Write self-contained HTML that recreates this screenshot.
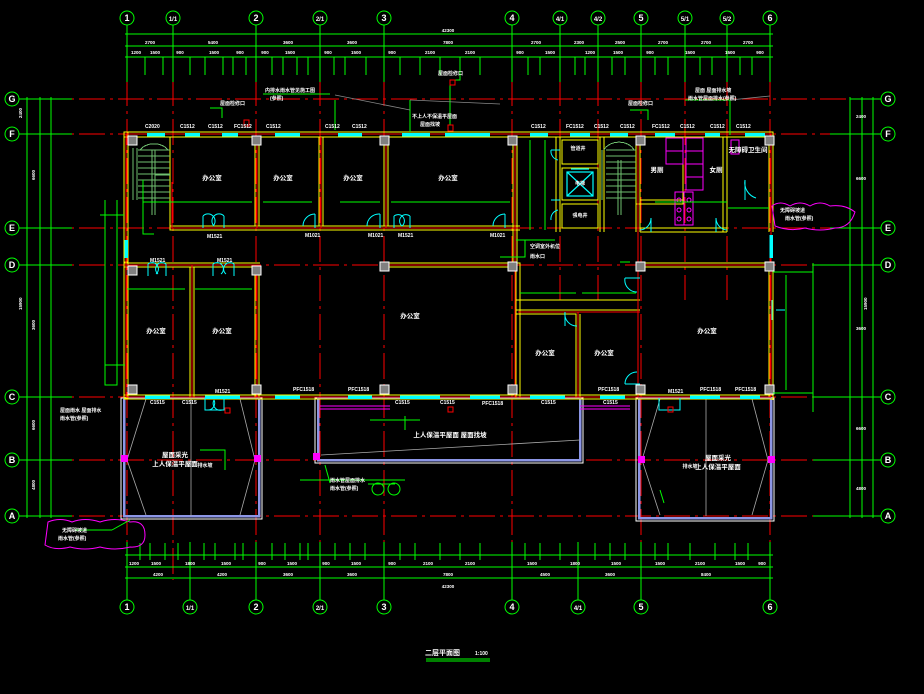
<!DOCTYPE html>
<html><head><meta charset="utf-8"><style>
html,body{margin:0;padding:0;background:#000;}
svg{display:block}
text{font-family:"Liberation Sans","Noto Sans CJK SC",sans-serif;fill:#fff;font-weight:bold}
</style></head><body>
<svg width="924" height="694" viewBox="0 0 924 694" xmlns="http://www.w3.org/2000/svg" shape-rendering="crispEdges">
<rect width="924" height="694" fill="#000"/>
<!-- red axis lines -->
<g stroke="#ff0000" stroke-width="1" stroke-dasharray="26,5,3,5" fill="none">
<path d="M40 99H860M40 134H860M40 228H860M40 265H860M40 397H860M40 460H860M40 516H860"/>
<path d="M127 80V580M173 80V580M256 80V580M320 80V580M384 80V580M512 80V580M560 80V300M598 80V300M641 80V580M685 80V300M727 80V300M770 80V580"/>
</g>
<!-- green grid extension & dims -->
<g stroke="#00ff00" stroke-width="1" fill="none">
<path d="M127 25V82M173 25V82M256 25V82M320 25V82M384 25V82M512 25V82M560 25V82M598 25V82M641 25V82M685 25V82M727 25V82M770 25V82"/>
<path d="M127 542V600M190 542V600M256 542V600M320 542V600M384 542V600M512 542V600M578 542V600M641 542V600M770 542V600"/>
<path d="M125 34H773M125 46H773M125 57H773M125 555H773M125 567H773M125 578H773"/>
<path d="M19 99H72M19 134H72M19 228H72M19 265H72M19 397H72M19 460H72M19 516H72"/>
<path d="M27 97V518M40 97V518M51 97V518"/>
<path d="M813 265H881M850 99H881M830 134H881M830 228H881M813 397H881M813 460H881M813 516H881"/>
<path d="M813 263V412M850 97V518M862 97V518M873 97V518"/>
</g>
<g stroke="#00ff00" stroke-width="1">
<path d="M145 57V75M163 57V75M190 57V75M205 57V75M223 57V75M233 57V75M246 57V75M272 57V75M283 57V75M297 57V75M308 57V75M334 57V75M345 57V75M366 57V75M400 57V75M420 57V75M440 57V75M460 57V75M480 57V75M528 57V75M540 57V75M575 57V75M585 57V75M612 57V75M625 57V75M655 57V75M668 57V75M700 57V75M712 57V75M740 57V75M752 57V75"/>
<path d="M140 543V560M150 543V560M165 543V560M178 543V560M204 543V560M215 543V560M235 543V560M243 543V560M272 543V560M285 543V560M300 543V560M308 543V560M335 543V560M350 543V560M365 543V560M400 543V560M415 543V560M440 543V560M460 543V560M480 543V560M525 543V560M540 543V560M560 543V560M595 543V560M610 543V560M625 543V560M655 543V560M668 543V560M690 543V560M715 543V560M735 543V560M748 543V560"/>
</g>
<!-- grid circles -->
<g stroke="#00ff00" stroke-width="1" fill="none" shape-rendering="auto">
<circle cx="127" cy="18" r="7"/><circle cx="173" cy="18" r="7"/><circle cx="256" cy="18" r="7"/><circle cx="320" cy="18" r="7"/><circle cx="384" cy="18" r="7"/><circle cx="512" cy="18" r="7"/><circle cx="560" cy="18" r="7"/><circle cx="598" cy="18" r="7"/><circle cx="641" cy="18" r="7"/><circle cx="685" cy="18" r="7"/><circle cx="727" cy="18" r="7"/><circle cx="770" cy="18" r="7"/>
<circle cx="127" cy="607" r="7"/><circle cx="190" cy="607" r="7"/><circle cx="256" cy="607" r="7"/><circle cx="320" cy="607" r="7"/><circle cx="384" cy="607" r="7"/><circle cx="512" cy="607" r="7"/><circle cx="578" cy="607" r="7"/><circle cx="641" cy="607" r="7"/><circle cx="770" cy="607" r="7"/>
<circle cx="12" cy="99" r="7"/><circle cx="12" cy="134" r="7"/><circle cx="12" cy="228" r="7"/><circle cx="12" cy="265" r="7"/><circle cx="12" cy="397" r="7"/><circle cx="12" cy="460" r="7"/><circle cx="12" cy="516" r="7"/>
<circle cx="888" cy="99" r="7"/><circle cx="888" cy="134" r="7"/><circle cx="888" cy="228" r="7"/><circle cx="888" cy="265" r="7"/><circle cx="888" cy="397" r="7"/><circle cx="888" cy="460" r="7"/><circle cx="888" cy="516" r="7"/>
</g>
<g font-size="9" text-anchor="middle" style="font-weight:normal">
<text x="127" y="21">1</text><text x="173" y="21" font-size="6">1/1</text><text x="256" y="21">2</text><text x="320" y="21" font-size="6">2/1</text><text x="384" y="21">3</text><text x="512" y="21">4</text><text x="560" y="21" font-size="6">4/1</text><text x="598" y="21" font-size="6">4/2</text><text x="641" y="21">5</text><text x="685" y="21" font-size="6">5/1</text><text x="727" y="21" font-size="6">5/2</text><text x="770" y="21">6</text>
<text x="127" y="610">1</text><text x="190" y="610" font-size="6">1/1</text><text x="256" y="610">2</text><text x="320" y="610" font-size="6">2/1</text><text x="384" y="610">3</text><text x="512" y="610">4</text><text x="578" y="610" font-size="6">4/1</text><text x="641" y="610">5</text><text x="770" y="610">6</text>
<text x="12" y="102">G</text><text x="12" y="137">F</text><text x="12" y="231">E</text><text x="12" y="268">D</text><text x="12" y="400">C</text><text x="12" y="463">B</text><text x="12" y="519">A</text>
<text x="888" y="102">G</text><text x="888" y="137">F</text><text x="888" y="231">E</text><text x="888" y="268">D</text><text x="888" y="400">C</text><text x="888" y="463">B</text><text x="888" y="519">A</text>
</g>
<g font-size="4.5" text-anchor="middle">
<text x="448" y="32">42300</text>
<text x="150" y="44">2700</text><text x="213" y="44">5400</text><text x="288" y="44">3600</text><text x="352" y="44">3600</text><text x="448" y="44">7800</text><text x="536" y="44">2700</text><text x="579" y="44">2300</text><text x="620" y="44">2500</text><text x="663" y="44">2700</text><text x="706" y="44">2700</text><text x="748" y="44">2700</text>
<text x="136" y="54">1200</text><text x="155" y="54">1500</text><text x="180" y="54">900</text><text x="214" y="54">1500</text><text x="240" y="54">900</text><text x="265" y="54">900</text><text x="290" y="54">1500</text><text x="328" y="54">900</text><text x="356" y="54">1500</text><text x="392" y="54">900</text><text x="430" y="54">2100</text><text x="470" y="54">2100</text><text x="520" y="54">900</text><text x="550" y="54">1500</text><text x="590" y="54">1200</text><text x="618" y="54">1500</text><text x="650" y="54">900</text><text x="690" y="54">1500</text><text x="730" y="54">1500</text><text x="760" y="54">900</text>
<text x="448" y="588">42300</text>
<text x="158" y="576">4200</text><text x="222" y="576">4200</text><text x="288" y="576">3600</text><text x="352" y="576">3600</text><text x="448" y="576">7800</text><text x="545" y="576">4500</text><text x="610" y="576">3600</text><text x="706" y="576">8400</text>
<text x="134" y="565">1200</text><text x="156" y="565">1500</text><text x="190" y="565">1800</text><text x="226" y="565">1500</text><text x="262" y="565">900</text><text x="292" y="565">1500</text><text x="326" y="565">900</text><text x="356" y="565">1500</text><text x="392" y="565">900</text><text x="428" y="565">2100</text><text x="470" y="565">2100</text><text x="532" y="565">1500</text><text x="575" y="565">1800</text><text x="616" y="565">1500</text><text x="660" y="565">1500</text><text x="700" y="565">2100</text><text x="740" y="565">1500</text><text x="762" y="565">900</text>
</g>
<g font-size="4.5">
<text x="22" y="118" transform="rotate(-90 22 118)">2400</text><text x="22" y="310" transform="rotate(-90 22 310)">15900</text>
<text x="35" y="180" transform="rotate(-90 35 180)">6600</text><text x="35" y="330" transform="rotate(-90 35 330)">3600</text><text x="35" y="430" transform="rotate(-90 35 430)">6600</text><text x="35" y="490" transform="rotate(-90 35 490)">4800</text>
<text x="856" y="118">2400</text><text x="856" y="180">6600</text><text x="856" y="330">3600</text><text x="856" y="430">6600</text><text x="856" y="490">4800</text><text x="867" y="310" transform="rotate(-90 867 310)">15900</text>
</g>

<g fill="none">
<rect x="121" y="398" width="141" height="121" stroke="#fff" stroke-width="1"/>
<rect x="124" y="398" width="135" height="118" stroke="#8c96e6" stroke-width="2.5"/>
<rect x="315" y="398" width="268" height="65" stroke="#fff" stroke-width="1"/>
<rect x="318" y="398" width="262" height="62" stroke="#8c96e6" stroke-width="2.5"/>
<rect x="636" y="398" width="138" height="123" stroke="#fff" stroke-width="1"/>
<rect x="639" y="398" width="132" height="120" stroke="#8c96e6" stroke-width="2.5"/>
</g>
<g stroke="#aaa" stroke-width="0.8" fill="none" shape-rendering="auto">
<path d="M146 399L127 460L146 515M240 399L255 460L240 515M191 399V516"/>
<path d="M321 455L580 440"/>
<path d="M660 399L642 460L660 515M752 399L768 460L752 515M706 399V516"/>
</g>

<g stroke="#ffff00" stroke-width="1.2" fill="none">
<path d="M124 132H773V137H124Z"/>
<rect x="124" y="132" width="4" height="135"/>
<rect x="124" y="262" width="4" height="136"/>
<path d="M170 137V230H520M170 226H520"/>
<path d="M255 137V226M259 137V226M319 137V226M323 137V226M384 137V226M388 137V226M513 137V262M517 137V262"/>
<path d="M124 263H260M124 267H260M255 267V398M259 267V398M190 267V398M194 267V398"/>
<path d="M384 263H520V398M384 267H516V398"/>
<path d="M516 310H640M516 314H576V398M580 314V398"/>
<path d="M636 137V232M640 137V232M636 263H773V400M640 267H769V397"/>
<path d="M124 395H773M124 399H773"/>
<path d="M560 137V232M556 137V232M600 137V232M604 137V232"/>
<path d="M727 137V232M723 137V232M769 137V232M773 137V232"/>
<path d="M640 228H727M640 232H727"/>
<path d="M683 137V204H636M683 200H640"/>
<rect x="562" y="140" width="36" height="24"/><rect x="562" y="168" width="36" height="32"/><rect x="562" y="204" width="36" height="24"/>
<path d="M640 300H516"/>
</g>
<g stroke="#ff0000" stroke-width="1" fill="none">
<path d="M126 134H772M126 134V397M172 182V228H518M257 137V228M321 137V228M386 137V228M515 137V397M126 265H258M192 265V397M257 265V397M386 265H518M638 137V397M638 265H771M771 134V397M126 397H771M518 312H640M578 312V397"/>
</g>
<g stroke="#00ffff" stroke-width="3.5">
<path d="M147 134.5H165M185 134.5H200M222 134.5H238M275 134.5H300M338 134.5H362M402 134.5H430M445 134.5H490M530 134.5H548M570 134.5H590M610 134.5H628M655 134.5H675M705 134.5H720M745 134.5H765"/>
<path d="M145 397H170M205 397H240M275 397H300M348 397H372M400 397H440M470 397H500M530 397H565M600 397H625M690 397H720M740 397H760"/>
<path d="M126 240V258M771 235V258"/>
</g>
<g fill="#808080" stroke="#fff" stroke-width="0.8">
<rect x="128" y="136" width="9" height="9"/><rect x="252" y="136" width="9" height="9"/><rect x="380" y="136" width="9" height="9"/><rect x="508" y="136" width="9" height="9"/><rect x="636" y="136" width="9" height="9"/><rect x="765" y="136" width="9" height="9"/>
<rect x="128" y="266" width="9" height="9"/><rect x="252" y="266" width="9" height="9"/><rect x="380" y="262" width="9" height="9"/><rect x="508" y="262" width="9" height="9"/><rect x="636" y="262" width="9" height="9"/><rect x="765" y="262" width="9" height="9"/>
<rect x="128" y="385" width="9" height="9"/><rect x="252" y="385" width="9" height="9"/><rect x="380" y="385" width="9" height="9"/><rect x="508" y="385" width="9" height="9"/><rect x="636" y="385" width="9" height="9"/><rect x="765" y="385" width="9" height="9"/>
</g>
<g stroke="#70c070" stroke-width="1" fill="none">
<path d="M133 148V200M137 148V200M138 150H170M138 156H170M138 162H170M138 168H170M138 174H170M138 180H170M138 186H170M138 192H170M138 198H170M152 150V215M155 150V215M155 175H170"/>
<path d="M140 150A16 12 0 0 1 168 150"/>
<path d="M602 150V200M606 150H636M606 156H636M606 162H636M606 168H636M606 174H636M606 180H636M606 186H636M606 192H636M606 198H636M618 160V215M621 160V215"/>
<path d="M604 150A16 12 0 0 1 634 150"/>
</g>
<g stroke="#00ffff" stroke-width="1" fill="none" shape-rendering="auto">
<path d="M203 216V228M203 216A6 6 0 0 1 213 226M224 216V228M224 216A6 6 0 0 0 214 226"/>
<path d="M315 214V228M315 214A12 12 0 0 0 303 226"/>
<path d="M380 214V228M380 214A12 12 0 0 0 367 226"/>
<path d="M394 216V228M394 216A6 6 0 0 1 402 226M410 216V228M410 216A6 6 0 0 0 402 226"/>
<path d="M505 214V228M505 214A12 12 0 0 0 493 226"/>
<path d="M148 264V276M148 264A6 6 0 0 1 156 274M166 264V276M166 264A6 6 0 0 0 158 274"/>
<path d="M213 264V276M213 264A6 6 0 0 1 221 274M234 264V276M234 264A6 6 0 0 0 226 274"/>
<path d="M625 278H640M625 278A12 12 0 0 0 637 292"/>
<path d="M625 384H640M625 384A12 12 0 0 1 637 372"/>
<path d="M565 312V326M565 312A12 12 0 0 0 577 326"/>
<path d="M205 398V410H224V398M207 410A7 7 0 0 0 214 400M222 410A7 7 0 0 1 214 400"/>
<path d="M659 398V410H680V398"/>
<path d="M651 218V232M651 218A12 12 0 0 1 640 230M716 218V232M716 218A12 12 0 0 0 727 230"/>
<path d="M551 150H560M551 150A9 9 0 0 0 558 160M551 200H560M551 220A9 9 0 0 1 558 210"/>
<path d="M745 180V200M745 180A16 16 0 0 0 756 198"/>
<path d="M772 300V320M776 310H785"/>
</g>
<g stroke="#00ffff" stroke-width="1.2" fill="none" shape-rendering="auto">
<rect x="567" y="172" width="26" height="24"/><path d="M567 172L593 196M593 172L567 196M571 169H589"/>
</g>
<g stroke="#ff00ff" stroke-width="1" fill="none" shape-rendering="auto">
<rect x="666" y="138" width="17" height="13"/><rect x="666" y="151" width="17" height="13"/><rect x="686" y="138" width="17" height="13"/><rect x="686" y="151" width="17" height="13"/><rect x="686" y="164" width="17" height="13"/><rect x="686" y="177" width="17" height="13"/>
<rect x="675" y="192" width="9" height="33"/><rect x="684" y="192" width="9" height="33"/>
<circle cx="679" cy="200" r="2"/><circle cx="689" cy="200" r="2"/><circle cx="679" cy="210" r="2"/><circle cx="689" cy="210" r="2"/><circle cx="679" cy="219" r="2"/><circle cx="689" cy="219" r="2"/>
<rect x="731" y="140" width="8" height="14"/>
<path d="M772 206Q780 200 790 206Q800 200 810 206Q820 200 830 206Q845 204 855 212Q850 228 835 228Q820 232 805 228Q790 232 775 226Z"/>
<path d="M48 522Q60 517 72 522Q85 517 100 522Q115 517 130 522Q145 520 145 535Q145 548 130 547Q115 551 100 547Q85 551 70 547Q55 551 45 545Z"/>
<path d="M320 406H390M320 409H390M580 406H630M580 409H630"/>
</g>
<g fill="#ff00ff"><rect x="121" y="455" width="7" height="7"/><rect x="254" y="455" width="7" height="7"/><rect x="313" y="453" width="7" height="7"/><rect x="638" y="456" width="7" height="7"/><rect x="768" y="456" width="7" height="7"/></g>
<g stroke="#00ff00" stroke-width="1" fill="none">
<path d="M105 200V385H117V200M100 215H124M105 365H125"/>
<path d="M773 272H813V393H773M786 275V390"/>
<path d="M143 180V234H154"/>
<path d="M143 202H252M263 202H312M340 202H380M391 202H510M655 202H727M728 208H769"/>
<path d="M127 289H185M195 289H252M520 293H576M582 293H636M516 240H555M530 140V230M545 140V230"/>
<path d="M405 416V430M370 420H420M368 484H395M405 480H300"/>
<path d="M210 108H222V118M263 94H330M335 100V130M410 100V132M450 100V125M460 68V80H450V118M630 110H648V120M685 100H730V135M500 257H525V240M630 262H620"/>
<path d="M200 450H225V470M75 530H112"/>
</g>
<g stroke="#00ff00" stroke-width="1" fill="none" shape-rendering="auto">
<path d="M130 520L112 530M325 465L330 483M660 490L664 503"/>
<circle cx="378" cy="489" r="6"/><circle cx="394" cy="489" r="6"/>
</g>
<g stroke="#888" stroke-width="0.8" fill="none" shape-rendering="auto"><path d="M335 95L410 110M410 100L500 104M730 100L770 96"/></g>
<g stroke="#ff0000" fill="none"><rect x="244" y="120" width="5" height="6"/><rect x="448" y="125" width="5" height="6"/><rect x="225" y="408" width="5" height="5"/><rect x="448" y="407" width="5" height="5"/><rect x="668" y="407" width="5" height="5"/><rect x="450" y="80" width="5" height="5"/></g>
<g font-size="6.5" text-anchor="middle">
<text x="212" y="180">办公室</text><text x="283" y="180">办公室</text><text x="353" y="180">办公室</text><text x="448" y="180">办公室</text>
<text x="156" y="333">办公室</text><text x="222" y="333">办公室</text><text x="410" y="318">办公室</text><text x="545" y="355">办公室</text><text x="604" y="355">办公室</text><text x="707" y="333">办公室</text>
<text x="657" y="172">男厕</text><text x="716" y="172">女厕</text><text x="748" y="152">无障碍卫生间</text>
<text x="578" y="150" font-size="5">管道井</text><text x="580" y="217" font-size="5">强电井</text><text x="580" y="185" font-size="5">电梯</text>
<text x="175" y="457">屋面采光</text><text x="175" y="466">上人保温平屋面</text>
<text x="450" y="437">上人保温平屋面  屋面找坡</text>
<text x="718" y="460">屋面采光</text><text x="718" y="469">上人保温平屋面</text>
<text x="205" y="467" font-size="5">排水坡</text><text x="690" y="468" font-size="5">排水坡</text>
</g>
<g font-size="5">
<text x="265" y="92">内排水雨水管见施工图</text><text x="270" y="100">(参照)</text>
<text x="412" y="118">不上人不保温平屋面</text><text x="420" y="126">屋面找坡</text>
<text x="438" y="75">屋面检修口</text><text x="220" y="105">屋面检修口</text><text x="628" y="105">屋面检修口</text>
<text x="695" y="92">屋面 屋面排水坡</text><text x="688" y="100">雨水管屋面排水(参照)</text>
<text x="60" y="412">屋面雨水 屋面排水</text><text x="60" y="420">雨水管(参照)</text>
<text x="62" y="532">无障碍坡道</text><text x="58" y="540">雨水管(参照)</text>
<text x="780" y="212">无障碍坡道</text><text x="785" y="220">雨水管(参照)</text>
<text x="330" y="482">雨水管屋面排水</text><text x="330" y="490">雨水管(参照)</text>
<text x="530" y="248">空调室外机位</text><text x="530" y="258">雨水口</text>
<text x="145" y="128">C2020</text><text x="180" y="128">C1512</text><text x="208" y="128">C1512</text><text x="234" y="128">FC1512</text><text x="266" y="128">C1512</text><text x="325" y="128">C1512</text><text x="352" y="128">C1512</text><text x="531" y="128">C1512</text><text x="566" y="128">FC1512</text><text x="594" y="128">C1512</text><text x="620" y="128">C1512</text><text x="652" y="128">FC1512</text><text x="680" y="128">C1512</text><text x="710" y="128">C1512</text><text x="736" y="128">C1512</text>
<text x="207" y="238">M1521</text><text x="305" y="237">M1021</text><text x="368" y="237">M1021</text><text x="398" y="237">M1521</text><text x="490" y="237">M1021</text>
<text x="150" y="262">M1521</text><text x="217" y="262">M1521</text><text x="215" y="393">M1521</text><text x="668" y="393">M1521</text>
<text x="293" y="391">PFC1518</text><text x="348" y="391">PFC1518</text><text x="482" y="405">PFC1518</text><text x="598" y="391">PFC1518</text><text x="700" y="391">PFC1518</text><text x="735" y="391">PFC1518</text>
<text x="150" y="404">C1515</text><text x="182" y="404">C1515</text><text x="395" y="404">C1515</text><text x="440" y="404">C1515</text><text x="541" y="404">C1515</text><text x="603" y="404">C1515</text>
</g>
<text x="425" y="655" font-size="7">二层平面图</text><text x="475" y="655" font-size="5">1:100</text>
<path d="M426 659H490M426 661H490" stroke="#00ff00" stroke-width="1"/>
</svg>
</body></html>
